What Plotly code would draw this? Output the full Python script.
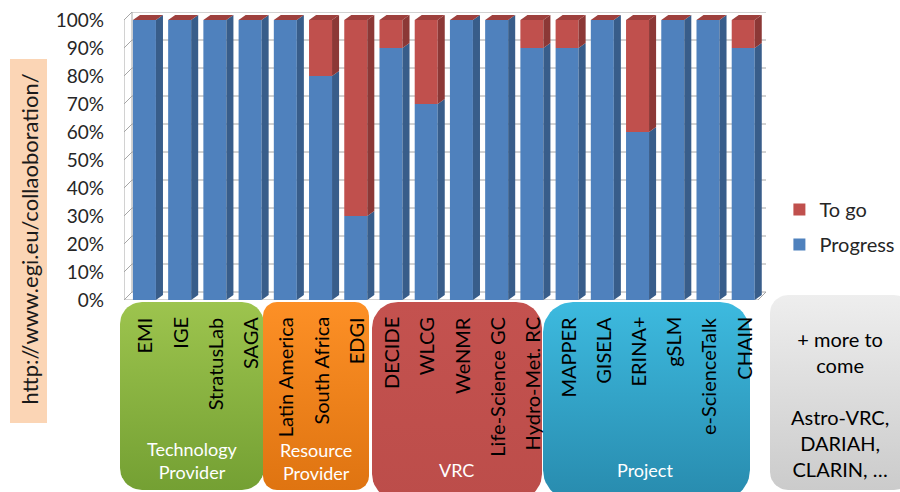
import numpy as np
import plotly.graph_objects as go

# ---------------- data ----------------
categories = ["EMI", "IGE", "StratusLab", "SAGA",
              "Latin America", "South Africa", "EDGI",
              "DECIDE", "WLCG", "WeNMR", "Life-Science GC", "Hydro-Met. RC",
              "MAPPER", "GISELA", "ERINA+", "gSLM", "e-ScienceTalk", "CHAIN"]
progress = [100, 100, 100, 100, 100, 80, 30, 90, 70, 100, 100, 90, 90, 100, 60, 100, 100, 90]
to_go = [0, 0, 0, 0, 0, 20, 70, 10, 30, 0, 0, 10, 10, 0, 40, 0, 0, 10]
tick_values = [0, 10, 20, 30, 40, 50, 60, 70, 80, 90, 100]
tick_labels = ["0%", "10%", "20%", "30%", "40%", "50%", "60%", "70%", "80%", "90%", "100%"]
groups = ["Technology<br>Provider", "Resource<br>Provider", "VRC", "Project"]
group_sizes = [4, 3, 5, 6]
more_text = "+ more to<br>come<br><br>Astro-VRC,<br>DARIAH,<br>CLARIN, …"
side_note = "http://www.egi.eu/collaoboration/"

# ---------------- style ----------------
FONT = "Lato"
BLUE, BLUE_SIDE = "#4F81BD", "#385D8A"
RED, RED_SIDE, RED_TOP = "#C0504D", "#8C3836", "#9E403D"
GRID = "#A6A6A6"
W, H = 900, 492
PL, PR, PT, PB = 124, 766, 12, 300          # plot area in pixels (incl. back wall)
DEPTH_X, DEPTH_Y = 0.227, 2.857               # wall depth in axis units
BAR_W, BAR_SHIFT = 0.653, 0.08
SIDE_X, SIDE_Y = 0.2, 1.786

n = len(categories)
xs = np.arange(n)

fig = go.Figure()

# front faces (real bars)
fig.add_trace(go.Bar(x=xs + BAR_SHIFT, y=progress, base=[0] * n, width=BAR_W,
                     marker=dict(color=BLUE, line=dict(width=0)), name="Progress",
                     legendrank=2, legendgroup="p", customdata=categories,
                     hovertemplate="%{customdata}: %{y}%<extra>Progress</extra>"))
fig.add_trace(go.Bar(x=xs + BAR_SHIFT, y=to_go, base=progress, width=BAR_W,
                     marker=dict(color=RED, line=dict(width=0)), name="To go",
                     legendrank=1, legendgroup="t", customdata=categories,
                     hovertemplate="%{customdata}: %{y}%<extra>To go</extra>"))

# 3D side and top faces derived from the data
def faces():
    bs_x, bs_y, rs_x, rs_y, t_x, t_y = [], [], [], [], [], []
    for i, (p, t) in enumerate(zip(progress, to_go)):
        xl = i + BAR_SHIFT - BAR_W / 2
        xr = i + BAR_SHIFT + BAR_W / 2
        tot = p + t
        if p > 0:
            bs_x += [xr, xr + SIDE_X, xr + SIDE_X, xr, xr, None]
            bs_y += [0, SIDE_Y, p + SIDE_Y, p, 0, None]
        if t > 0:
            rs_x += [xr, xr + SIDE_X, xr + SIDE_X, xr, xr, None]
            rs_y += [p, p + SIDE_Y, tot + SIDE_Y, tot, p, None]
        t_x += [xl, xr, xr + SIDE_X, xl + SIDE_X, xl, None]
        t_y += [tot, tot, tot + SIDE_Y, tot + SIDE_Y, tot, None]
    return bs_x, bs_y, rs_x, rs_y, t_x, t_y

bs_x, bs_y, rs_x, rs_y, t_x, t_y = faces()
for fx, fy, col in [(bs_x, bs_y, BLUE_SIDE), (rs_x, rs_y, RED_SIDE), (t_x, t_y, RED_TOP)]:
    fig.add_trace(go.Scatter(x=fx, y=fy, mode="lines", fill="toself", fillcolor=col,
                             line=dict(width=0, color=col), showlegend=False,
                             hoverinfo="skip"))

# walls / floor
x0, x1 = -0.5, n - 0.5
shapes = []
shapes.append(dict(type="path", xref="x", yref="y", layer="below",
                   path=f"M{x0},0 L{x1},0 L{x1 + DEPTH_X},{DEPTH_Y} L{x0 + DEPTH_X},{DEPTH_Y} Z",
                   line=dict(color=GRID, width=1), fillcolor="white"))
shapes.append(dict(type="line", xref="x", yref="y", layer="below", x0=x0, x1=x0, y0=0, y1=100,
                   line=dict(color=GRID, width=1)))
shapes.append(dict(type="line", xref="x", yref="y", layer="below", x0=x0 + DEPTH_X, x1=x0 + DEPTH_X,
                   y0=DEPTH_Y, y1=100 + DEPTH_Y, line=dict(color=GRID, width=1)))
for v in tick_values[1:]:
    shapes.append(dict(type="line", xref="x", yref="y", layer="below", x0=x0, x1=x0 + DEPTH_X,
                       y0=v, y1=v + DEPTH_Y, line=dict(color=GRID, width=1)))
    shapes.append(dict(type="line", xref="x", yref="y", layer="below", x0=x0 + DEPTH_X,
                       x1=x1 + DEPTH_X, y0=v + DEPTH_Y, y1=v + DEPTH_Y,
                       line=dict(color=GRID, width=1)))

# ---------------- decoration boxes (pixel overlay axes x2/y2) ----------------
def rounded(xa, ya, xb, yb, r):
    pts_x, pts_y = [], []
    corners = [((xb - r, ya + r), -90, 0), ((xb - r, yb - r), 0, 90),
               ((xa + r, yb - r), 90, 180), ((xa + r, ya + r), 180, 270)]
    for (cx, cy), a0, a1 in corners:
        a = np.radians(np.linspace(a0, a1, 12))
        pts_x += list(cx + r * np.cos(a))
        pts_y += list(cy + r * np.sin(a))
    pts_x.append(pts_x[0]); pts_y.append(pts_y[0])
    return pts_x, pts_y

boxes = [
    (120, 302, 264, 490, 22, "#9DC44E", "#74A033"),
    (263, 302, 369, 490, 14, "#FD9026", "#DF7411"),
    (372, 302, 542, 500, 26, "#C4524F", "#BC4D4A"),
    (543, 302, 750, 500, 30, "#3DBADF", "#288BAE"),
    (770, 295, 912, 490, 18, "#EEEEEE", "#CBCBCB"),
]
for xa, ya, xb, yb, r, ctop, cbot in boxes:
    bx, by = rounded(xa, ya, xb, yb, r)
    fig.add_trace(go.Scatter(x=bx, y=by, xaxis="x2", yaxis="y2", mode="lines", fill="toself",
                             fillgradient=dict(type="vertical",
                                               colorscale=[[0, cbot], [1, ctop]]),
                             line=dict(width=0), showlegend=False, hoverinfo="skip"))

shapes.append(dict(type="rect", xref="x2", yref="y2", x0=10, x1=47, y0=59, y1=423,
                   fillcolor="#FBD5B5", line=dict(width=0), layer="below"))

annotations = []
annotations.append(dict(xref="x2", yref="y2", x=28.5, y=239, text=side_note, textangle=-90,
                        showarrow=False, font=dict(family=FONT, size=22, color="#1a1a1a")))

for i, c in enumerate(categories):
    annotations.append(dict(xref="x", yref="y2", x=i + BAR_SHIFT, y=315, text=c, textangle=-90,
                            xanchor="center", yanchor="top", showarrow=False,
                            font=dict(family=FONT, size=20, color="black")))

group_pos = [(192, 460), (316, 461), (456, 470), (645, 470)]
for g, (gx, gy) in zip(groups, group_pos):
    annotations.append(dict(xref="x2", yref="y2", x=gx, y=gy, text=g, showarrow=False,
                            font=dict(family=FONT, size=18, color="white")))
annotations.append(dict(xref="x2", yref="y2", x=840, y=404, text=more_text, showarrow=False,
                        font=dict(family=FONT, size=20, color="black")))

fig.update_layout(
    width=W, height=H,
    margin=dict(l=0, r=0, t=0, b=0, autoexpand=False),
    paper_bgcolor="white", plot_bgcolor="rgba(0,0,0,0)",
    barmode="overlay",
    font=dict(family=FONT, color="#262626"),
    xaxis=dict(domain=[PL / W, PR / W], range=[x0, x1 + DEPTH_X], showticklabels=False,
               showgrid=False, zeroline=False, showline=False, fixedrange=True),
    yaxis=dict(domain=[(H - PB) / H, (H - PT) / H], range=[0, 100 + DEPTH_Y],
               tickvals=tick_values, ticktext=tick_labels, ticks="", ticklabelstandoff=19,
               tickfont=dict(family=FONT, size=19, color="#262626"),
               showgrid=False, zeroline=False, showline=False, fixedrange=True),
    xaxis2=dict(domain=[0, 1], range=[0, W], visible=False, anchor="y2", fixedrange=True),
    yaxis2=dict(domain=[0, 1], range=[H, 0], visible=False, anchor="x2", fixedrange=True),
    legend=dict(xref="paper", yref="paper", x=0.866, y=1 - 190 / H,
                xanchor="left", yanchor="top", traceorder="grouped", tracegroupgap=6,
                font=dict(family=FONT, size=20, color="#262626"), bgcolor="rgba(0,0,0,0)"),
    shapes=shapes, annotations=annotations,
)

fig.write_html("out.html", config={"displayModeBar": False},
               post_script="document.body.style.margin='0';document.body.style.overflow='hidden';")
